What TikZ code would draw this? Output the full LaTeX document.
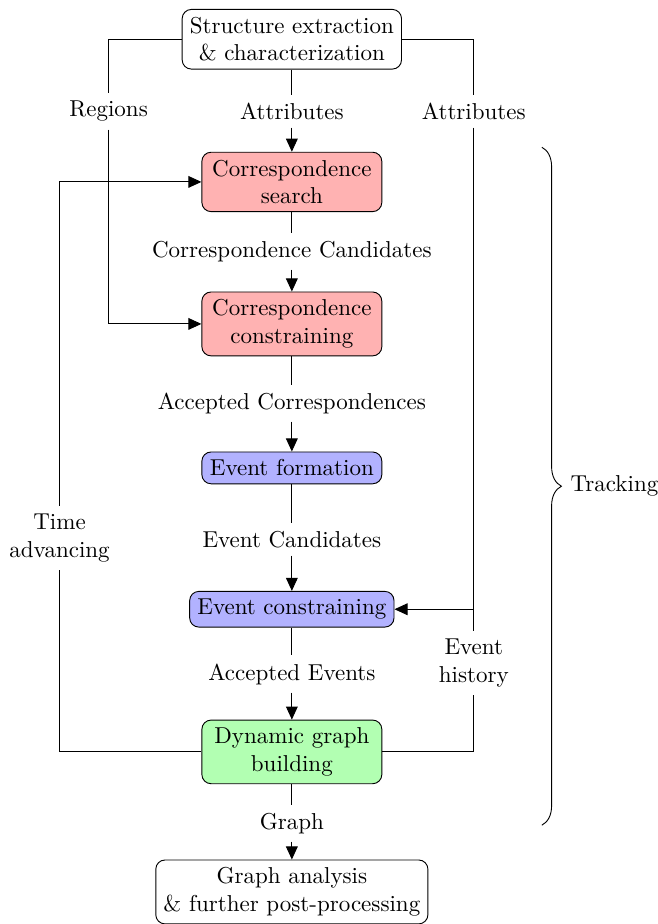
\documentclass[tikz,border=0pt]{standalone}
\usetikzlibrary{arrows.meta, calc, decorations.pathreplacing}
\tikzset{
  >={Triangle[length=2mm,width=1.8mm]},
  frame/.style={draw, rounded corners=4pt, align=center},
  stage/.style={frame, fill=#1, minimum width=2.75cm},
  tag/.style={align=center},
  bracket/.style={decorate, decoration={brace, amplitude=8.5pt}},
}
\begin{document}
\begin{tikzpicture}
\useasboundingbox (-4.46,0) rectangle (5.58,-14.12);

% ===================== main column =====================
\node[frame] (extract) at (0,-0.60) {Structure extraction\\ \& characterization};
\node[tag] (attrmid) at (0,-1.70) {Attributes};
\node[stage=red!30] (search) at (0,-2.78) {Correspondence\\ search};
\node[tag] (cand) at (0,-3.84) {Correspondence Candidates};
\node[stage=red!30] (constr) at (0,-4.95) {Correspondence\\ constraining};
\node[tag] (acc) at (0,-6.16) {Accepted Correspondences};
\node[stage=blue!30] (evform) at (0,-7.15) {Event formation};
\node[tag] (evcand) at (0,-8.24) {Event Candidates};
\node[stage=blue!30] (evconstr) at (0,-9.31) {Event constraining};
\node[tag] (evacc) at (0,-10.30) {Accepted Events};
\node[stage=green!30] (graph) at (0,-11.49) {Dynamic graph\\ building};
\node[tag] (graphout) at (0,-12.58) {Graph};
\node[frame] (post) at (0,-13.63) {Graph analysis\\ \& further post-processing};

% ===================== side labels =====================
\node[tag] (regions) at (-2.80,-1.70) {Regions};
\node[tag] (attrside) at (2.78,-1.70) {Attributes};
\node[tag] (time) at (-3.55,-8.22) {Time\\ advancing};
\node[tag] (history) at (2.78,-10.13) {Event\\ history};
\coordinate (join) at (attrside |- evconstr);

% ===================== connectors =====================
\draw (extract) -- (attrmid);
\draw[->] (attrmid) -- (search);
\draw (search) -- (cand);
\draw[->] (cand) -- (constr);
\draw (constr) -- (acc);
\draw[->] (acc) -- (evform);
\draw (evform) -- (evcand);
\draw[->] (evcand) -- (evconstr);
\draw (evconstr) -- (evacc);
\draw[->] (evacc) -- (graph);
\draw (graph) -- (graphout);
\draw[->] (graphout) -- (post);

% regions and attributes from the extraction
\draw (extract.west) -| (regions);
\draw[->] (regions) |- (constr);
\draw (extract.east) -| (attrside);
\draw[->] (attrside) |- (evconstr);

% feedback loops
\draw (graph.west) -| (time);
\draw[->] (time) |- (search);
\draw (graph.east) -| (history);
\draw (history) -- (join);

% ===================== brace =====================
\coordinate (btop) at (3.82,-2.25);
\coordinate (bbot) at (3.82,-12.61);
\draw[bracket] (btop) -- (bbot) node[midway, right=9pt] (track) {Tracking};

\end{tikzpicture}
\end{document}
